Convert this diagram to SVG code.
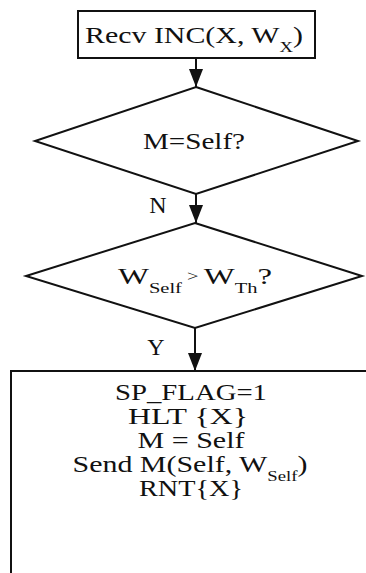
<svg xmlns="http://www.w3.org/2000/svg" width="366" height="573" viewBox="0 0 366 573">
  <style>
    .shape { fill: #fff; stroke: #111; stroke-width: 2; }
    .line { fill: none; stroke: #111; stroke-width: 2; }
    text { font-family: "Liberation Serif", "Times New Roman", serif; font-size: 24px; fill: #111; text-anchor: middle; }
    .sub { font-size: 15px; }
    .lbl { font-size: 24px; }
  </style>
  <defs>
    <marker id="arrow" markerUnits="userSpaceOnUse" markerWidth="18" markerHeight="14" refX="18" refY="7" orient="auto">
      <path d="M0,0 L18,7 L0,14 Z" fill="#111"/>
    </marker>
  </defs>

  <rect width="366" height="573" fill="#fff"/>

  <!-- connectors -->
  <g id="connectors">
    <path class="line" d="M196,58 L196,87" marker-end="url(#arrow)"/>
    <path class="line" d="M196,194 L196,223" marker-end="url(#arrow)"/>
    <path class="line" d="M195,328 L195,371" marker-end="url(#arrow)"/>
    <text class="lbl" x="158" y="213">N</text>
    <text class="lbl" x="156" y="355">Y</text>
  </g>

  <!-- receive step -->
  <g id="recv">
    <rect class="shape" x="78" y="11" width="237" height="47"/>
    <text x="194" y="43" textLength="218" lengthAdjust="spacingAndGlyphs">Recv INC(X, W<tspan class="sub" dy="9">X</tspan><tspan dy="-9">)</tspan></text>
  </g>

  <!-- first decision -->
  <g id="check-master">
    <polygon class="shape" points="196,87 358,141 196,194 35,141"/>
    <text x="194" y="149" textLength="102" lengthAdjust="spacingAndGlyphs">M=Self?</text>
  </g>

  <!-- second decision -->
  <g id="check-weight">
    <polygon class="shape" points="195,223 362,276 195,328 26,276"/>
    <text x="195" y="284" textLength="154" lengthAdjust="spacingAndGlyphs">W<tspan class="sub" dy="9">Self</tspan><tspan class="sub" dy="-12"> &gt; </tspan><tspan dy="3">W</tspan><tspan class="sub" dy="9">Th</tspan><tspan dy="-9">?</tspan></text>
  </g>

  <!-- action block -->
  <g id="actions">
    <rect class="shape" x="11" y="371" width="400" height="260"/>
    <text x="191" y="400" textLength="152" lengthAdjust="spacingAndGlyphs">SP_FLAG=1</text>
    <text x="188" y="424" textLength="120" lengthAdjust="spacingAndGlyphs">HLT {X}</text>
    <text x="191" y="448" textLength="107" lengthAdjust="spacingAndGlyphs">M = Self</text>
    <text x="190" y="472" textLength="235" lengthAdjust="spacingAndGlyphs">Send M(Self, W<tspan class="sub" dy="9">Self</tspan><tspan dy="-9">)</tspan></text>
    <text x="191" y="496" textLength="104" lengthAdjust="spacingAndGlyphs">RNT{X}</text>
  </g>
</svg>
